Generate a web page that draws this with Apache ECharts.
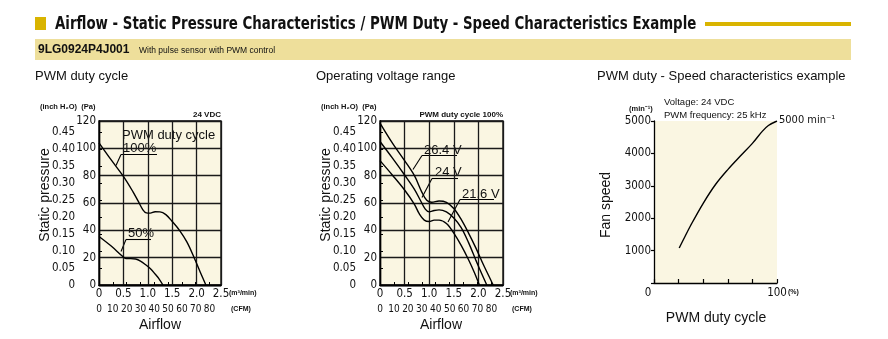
<!DOCTYPE html>
<html><head><meta charset="utf-8">
<script src="https://cdn.jsdelivr.net/npm/echarts@6/dist/echarts.min.js"></script>
<style>html,body{margin:0;padding:0;background:#fff}#c{width:888px;height:339px}</style>
</head><body><div id="c"></div>
<script>
// ---- Data ----
// Left chart: PWM duty cycle (24 VDC), airflow m3/min vs static pressure Pa
const flow100 = [0, 0.25, 0.5, 0.7, 0.8, 0.9, 0.97, 1.05, 1.15, 1.25, 1.37, 1.5, 1.65, 1.8, 1.95, 2.08, 2.19];
const press100 = [104, 91.5, 79.5, 68, 61.5, 55, 52.8, 52.6, 53.6, 53.5, 51.5, 46.5, 40, 31.5, 20, 9, 0];
const flow50 = [0, 0.25, 0.5, 0.56, 0.65, 0.75, 0.85, 0.95, 1.05, 1.15, 1.23, 1.31];
const press50 = [35.5, 28.5, 20.5, 19.3, 19.3, 19, 17.5, 15, 12, 8, 4.5, 0];
// Middle chart: operating voltage range (PWM 100%)
const flow264 = [0, 0.25, 0.5, 0.7, 0.85, 0.95, 1.05, 1.2, 1.35, 1.5, 1.65, 1.8, 1.95, 2.1, 2.2, 2.3];
const press264 = [118.5, 104, 91, 80, 68, 62, 60.5, 61.5, 60.5, 56, 48, 38, 27, 15, 7.5, 0];
const flow24 = [0, 0.25, 0.5, 0.7, 0.82, 0.92, 1.0, 1.1, 1.2, 1.35, 1.5, 1.65, 1.8, 1.95, 2.07, 2.17];
const press24 = [105, 93, 80.5, 70, 62, 55.5, 53.5, 54.5, 55, 53.5, 49, 42, 31, 18, 8, 0];
const flow216 = [0, 0.25, 0.5, 0.7, 0.8, 0.9, 1.0, 1.1, 1.2, 1.35, 1.5, 1.65, 1.8, 1.92, 2.02];
const press216 = [91, 80.5, 69.5, 59, 52, 47.5, 46.5, 47.5, 47.5, 45, 38, 29, 18.5, 9, 0];
// Right chart: PWM duty (%) vs fan speed (min-1)
const duty = [20.5, 25, 30, 40, 50, 60, 70, 80, 88, 93, 100];
const speed = [1080, 1420, 1790, 2460, 3040, 3500, 3910, 4310, 4680, 4860, 5000];
// Axis definitions
const PA_PER_INCH = 249.089;
const CFM_PER_M3MIN = 35.3147;
const flowMax = 2.5, paMax = 120, speedMax = 5000, dutyMax = 100;

const zip = (a, b) => a.map((v, i) => [v, b[i]]);

const cond = "'Liberation Sans Narrow','DejaVu Sans Condensed','Arial Narrow',sans-serif";
const reg = "'Liberation Sans',Arial,Helvetica,sans-serif";
const cream = '#faf6e2';
const lblStyle = { fontFamily: cond, fontSize: 11.5, color: '#111' };

function flowX(gi) {
  return { gridIndex: gi, type: 'value', min: 0, max: flowMax, interval: 0.5,
    axisLine: { show: true, lineStyle: { color: '#000', width: 1.3 } },
    axisTick: { show: false },
    splitLine: { show: true, lineStyle: { color: '#1a1a1a', width: 1.3 } },
    axisLabel: Object.assign({ margin: 3, formatter: v => v === 0 ? '0' : v.toFixed(1) }, lblStyle) };
}
function cfmX(gi) {
  return { gridIndex: gi, type: 'value', position: 'bottom', offset: 16, min: 0, max: flowMax * CFM_PER_M3MIN, interval: 10,
    axisLine: { show: true, lineStyle: { color: '#000', width: 1.3 } },
    axisTick: { show: true, inside: true, length: 3, lineStyle: { color: '#000' } },
    splitLine: { show: false },
    axisLabel: Object.assign({}, lblStyle, { margin: 3, showMaxLabel: false, fontSize: 10 }) };
}
function paY(gi) {
  return { gridIndex: gi, type: 'value', min: 0, max: paMax, interval: 20,
    axisLine: { show: true, lineStyle: { color: '#000', width: 1.3 } },
    axisTick: { show: false },
    splitLine: { show: true, lineStyle: { color: '#1a1a1a', width: 1.3 } },
    axisLabel: Object.assign({ margin: 3 }, lblStyle) };
}
function inchY(gi) {
  return { gridIndex: gi, type: 'value', position: 'left', offset: 20, min: 0, max: paMax / PA_PER_INCH, interval: 0.05,
    axisLine: { show: true, lineStyle: { color: '#000', width: 1.2 } },
    axisTick: { show: true, inside: true, length: 3, lineStyle: { color: '#000' } },
    splitLine: { show: false },
    axisLabel: Object.assign({ margin: 4, showMaxLabel: false, formatter: v => v === 0 ? '0' : v.toFixed(2) }, lblStyle) };
}
const lineS = (xi, yi, data) => ({ type: 'line', xAxisIndex: xi, yAxisIndex: yi, data, smooth: 0.35,
  symbol: 'none', lineStyle: { color: '#000', width: 1.4 }, silent: true, animation: false });

const T = (text, x, y, font, opts) => Object.assign({ type: 'text', x, y, silent: true,
  style: Object.assign({ text, font, fill: '#111', textAlign: 'left', textVerticalAlign: 'middle' }, (opts && opts.style) || {}) },
  opts && opts.rotation ? { rotation: opts.rotation } : {}, opts && opts.scaleX ? { scaleX: opts.scaleX } : {});
const L = (x1, y1, x2, y2) => ({ type: 'line', silent: true, shape: { x1, y1, x2, y2 }, style: { stroke: '#000', lineWidth: 1.1 } });

const graphics = [
  // header
  { type: 'rect', shape: { x: 35, y: 17, width: 11, height: 13 }, style: { fill: '#d9b400' } },
  T('Airflow - Static Pressure Characteristics / PWM Duty - Speed Characteristics Example', 55, 24, 'bold 18px ' + cond, { scaleX: 0.825 }),
  { type: 'rect', shape: { x: 705, y: 22, width: 146, height: 4 }, style: { fill: '#d9b400' } },
  { type: 'rect', shape: { x: 35, y: 39, width: 816, height: 21 }, style: { fill: '#eedf9b' } },
  T('9LG0924P4J001', 38, 50, 'bold 12px ' + reg),
  T('With pulse sensor with PWM control', 139, 51, '8.5px ' + reg),
  // subplot titles
  T('PWM duty cycle', 35, 76, '13px ' + reg),
  T('Operating voltage range', 316, 76, '13px ' + reg),
  T('PWM duty - Speed characteristics example', 597, 76, '13px ' + reg),
  // left chart texts
  T('(inch H\u2082O)  (Pa)', 40, 107, 'bold 7.5px ' + reg),
  T('24 VDC', 221, 115, 'bold 8px ' + reg, { style: { textAlign: 'right' } }),
  T('(m\u00b3/min)', 229, 293, 'bold 7px ' + reg),
  T('(CFM)', 231, 309, 'bold 7px ' + reg),
  T('Static pressure', 45, 195, '14px ' + reg, { rotation: Math.PI / 2, style: { textAlign: 'center' } }),
  T('Airflow', 160, 325, '14px ' + reg, { style: { textAlign: 'center' } }),
  T('PWM duty cycle', 122, 135, '13px ' + reg),
  T('100%', 123, 148, '13px ' + reg),
  L(121, 154.5, 157, 154.5), L(121, 154.5, 116, 165.5),
  T('50%', 128, 233, '13px ' + reg),
  L(126, 239.5, 151, 239.5), L(126, 239.5, 121, 251.5),
  // middle chart texts
  T('(inch H\u2082O)  (Pa)', 321, 107, 'bold 7.5px ' + reg),
  T('PWM duty cycle 100%', 503, 115, 'bold 8px ' + reg, { style: { textAlign: 'right' } }),
  T('(m\u00b3/min)', 510, 293, 'bold 7px ' + reg),
  T('(CFM)', 512, 309, 'bold 7px ' + reg),
  T('Static pressure', 326, 195, '14px ' + reg, { rotation: Math.PI / 2, style: { textAlign: 'center' } }),
  T('Airflow', 441, 325, '14px ' + reg, { style: { textAlign: 'center' } }),
  T('26.4 V', 424, 150, '13px ' + reg),
  L(422, 155.5, 457, 155.5), L(422, 155.5, 413, 169.5),
  T('24 V', 435, 172.5, '13px ' + reg),
  L(432, 178.5, 458, 178.5), L(432, 178.5, 422, 197.5),
  T('21.6 V', 462, 194, '13px ' + reg),
  L(460, 199.5, 494, 199.5), L(460, 199.5, 448, 222),
  // right chart texts
  T('(min\u207b\u00b9)', 629, 109, 'bold 7.5px ' + reg),
  T('Voltage: 24 VDC', 664, 102, '9.5px ' + reg),
  T('PWM frequency: 25 kHz', 664, 115, '9.5px ' + reg),
  T('5000 min\u207b\u00b9', 779, 120, '11px ' + cond),
  T('(%)', 788, 292, 'bold 7px ' + reg),
  T('Fan speed', 606, 205, '14px ' + reg, { rotation: Math.PI / 2, style: { textAlign: 'center' } }),
  T('PWM duty cycle', 716, 318, '14px ' + reg, { style: { textAlign: 'center' } })
];

const chart = echarts.init(document.getElementById('c'), null, { renderer: 'canvas' });
chart.setOption({
  animation: false,
  backgroundColor: '#fff',
  grid: [
    { left: 99, top: 121, width: 122, height: 164, show: true, backgroundColor: cream, borderColor: '#000', borderWidth: 1.3 },
    { left: 380, top: 121, width: 123, height: 164, show: true, backgroundColor: cream, borderColor: '#000', borderWidth: 1.3 },
    { left: 654, top: 121, width: 123, height: 162, show: true, backgroundColor: cream, borderWidth: 0 }
  ],
  xAxis: [
    flowX(0), cfmX(0), flowX(1), cfmX(1),
    { gridIndex: 2, type: 'value', min: 0, max: dutyMax, interval: 20,
      axisLine: { show: true, lineStyle: { color: '#000', width: 1.3 } },
      axisTick: { show: true, inside: true, length: 4, lineStyle: { color: '#000', width: 1.2 } },
      splitLine: { show: false },
      axisLabel: Object.assign({ margin: 4, formatter: v => v === 0 ? '{z|0}' : (v === 100 ? '100' : ''),
        rich: { z: { fontFamily: cond, fontSize: 11.5, color: '#111', padding: [0, 12, 0, 0] } } }, lblStyle) }
  ],
  yAxis: [
    paY(0), inchY(0), paY(1), inchY(1),
    { gridIndex: 2, type: 'value', min: 0, max: speedMax, interval: 1000,
      axisLine: { show: true, lineStyle: { color: '#000', width: 1.3 } },
      axisTick: { show: true, length: 3, lineStyle: { color: '#000', width: 1.2 } },
      splitLine: { show: false },
      axisLabel: Object.assign({ margin: 3, formatter: v => v === 0 ? '' : String(v) }, lblStyle) }
  ],
  series: [
    lineS(0, 0, zip(flow100, press100)),
    lineS(0, 0, zip(flow50, press50)),
    lineS(2, 2, zip(flow264, press264)),
    lineS(2, 2, zip(flow24, press24)),
    lineS(2, 2, zip(flow216, press216)),
    lineS(4, 4, zip(duty, speed))
  ],
  graphic: graphics
});
</script>
</body></html>
